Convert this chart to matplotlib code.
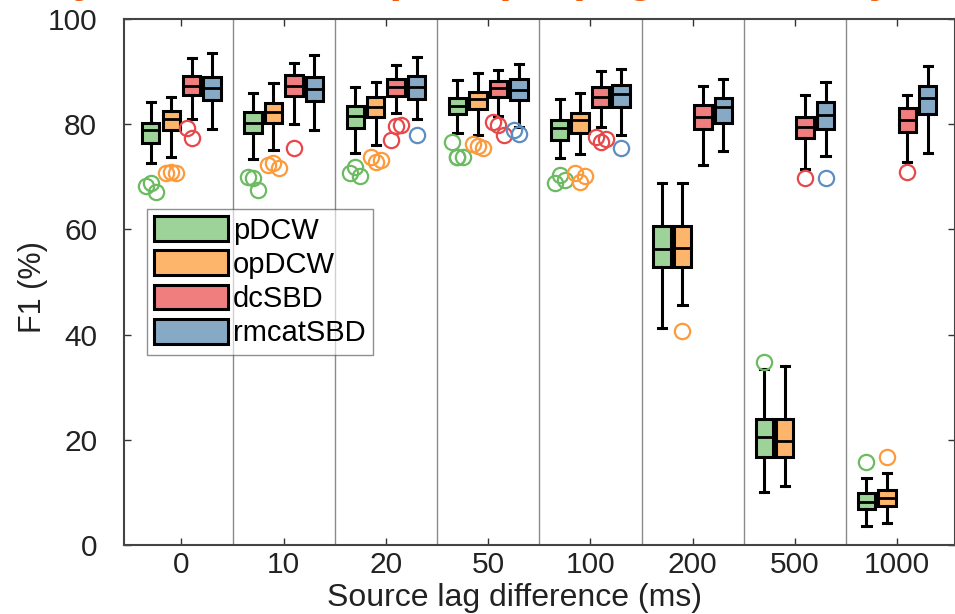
import matplotlib.pyplot as plt
from matplotlib.patches import Patch

plt.rcParams['font.family'] = ['Liberation Sans', 'DejaVu Sans']

lags = ['0', '10', '20', '50', '100', '200', '500', '1000']
methods = ['pDCW', 'opDCW', 'dcSBD', 'rmcatSBD']

# box stats per method, one value per lag group
pdcw_med = [78.9, 80.2, 81.6, 83.5, 79.2, 56.2, 20.6, 8.2]
pdcw_q1 = [76.5, 78.3, 79.2, 81.9, 77.0, 52.8, 16.7, 6.8]
pdcw_q3 = [80.3, 82.4, 83.5, 84.9, 80.8, 60.6, 23.9, 9.9]
pdcw_lo = [72.7, 73.4, 74.5, 78.4, 73.5, 41.2, 10.1, 3.7]
pdcw_hi = [84.2, 86.0, 87.1, 88.4, 84.7, 68.8, 33.5, 12.7]
pdcw_out = [[68.3, 68.8, 67.2], [70.0, 69.7, 67.5], [70.7, 71.8, 70.2],
            [76.7, 73.8, 73.8, 73.8], [68.8, 70.3, 69.4], [], [34.7], [15.7]]

opdcw_med = [80.9, 82.4, 83.3, 84.7, 80.7, 56.4, 19.8, 8.9]
opdcw_q1 = [78.8, 80.2, 81.3, 82.8, 78.4, 52.8, 16.7, 7.4]
opdcw_q3 = [82.5, 84.0, 85.1, 86.2, 82.2, 60.6, 23.9, 10.5]
opdcw_lo = [73.7, 75.1, 76.0, 77.9, 74.3, 45.7, 11.2, 4.1]
opdcw_hi = [85.2, 87.8, 88.0, 89.7, 86.0, 68.9, 34.0, 13.7]
opdcw_out = [[70.8, 70.9, 70.8], [72.2, 72.7, 71.7], [73.8, 72.9, 73.2],
             [76.3, 75.8, 75.4], [70.8, 69.1, 70.2], [40.6], [], [16.7]]

dcsbd_med = [87.3, 87.3, 87.1, 86.8, 85.1, 81.3, 79.4, 80.8]
dcsbd_q1 = [85.6, 85.4, 85.4, 85.1, 83.2, 79.0, 77.3, 78.6]
dcsbd_q3 = [89.2, 89.3, 88.5, 88.3, 87.1, 83.7, 81.4, 83.1]
dcsbd_lo = [81.0, 80.0, 82.2, 81.6, 79.4, 72.2, 71.4, 72.9]
dcsbd_hi = [92.5, 91.7, 91.3, 90.3, 90.1, 87.3, 85.6, 85.6]
dcsbd_out = [[79.2, 77.3], [75.4], [77.0, 79.7, 79.8], [80.5, 79.8, 77.9],
             [77.6, 76.7, 77.2], [], [69.8], [71.0]]

rmcat_med = [86.8, 86.6, 87.0, 86.5, 85.7, 83.3, 81.7, 84.9]
rmcat_q1 = [84.6, 84.5, 84.7, 84.6, 83.3, 80.2, 79.0, 81.9]
rmcat_q3 = [89.0, 89.0, 89.2, 88.5, 87.5, 84.9, 84.3, 87.3]
rmcat_lo = [79.0, 78.8, 80.9, 79.5, 77.9, 74.9, 74.0, 74.6]
rmcat_hi = [93.5, 93.2, 92.7, 91.4, 90.5, 88.5, 88.1, 91.1]
rmcat_out = [[], [], [77.9], [78.9, 78.1], [75.4], [], [69.8], []]

all_stats = [
    (pdcw_med, pdcw_q1, pdcw_q3, pdcw_lo, pdcw_hi, pdcw_out),
    (opdcw_med, opdcw_q1, opdcw_q3, opdcw_lo, opdcw_hi, opdcw_out),
    (dcsbd_med, dcsbd_q1, dcsbd_q3, dcsbd_lo, dcsbd_hi, dcsbd_out),
    (rmcat_med, rmcat_q1, rmcat_q3, rmcat_lo, rmcat_hi, rmcat_out),
]

fills = ['#9dd398', '#fdb56b', '#f07e7e', '#86a9c6']
edges = ['#6cbb62', '#fd9b3c', '#e9484b', '#5c8fbf']
offsets = [-0.3, -0.1, 0.1, 0.3]
jitter = [-0.05, 0.0, 0.05, 0.0]

fig = plt.figure(figsize=(9.55, 6.14), dpi=100)
ax = fig.add_axes([0.1294, 0.1124, 0.8706, 0.8567])

for m, (med, q1, q3, lo, hi, out) in enumerate(all_stats):
    stats = []
    pos = []
    for g in range(len(lags)):
        stats.append({'med': med[g], 'q1': q1[g], 'q3': q3[g],
                      'whislo': lo[g], 'whishi': hi[g], 'fliers': []})
        pos.append(g + 1 + offsets[m])
    ax.bxp(stats, positions=pos, widths=0.17, showfliers=False,
           patch_artist=True,
           boxprops=dict(facecolor=fills[m], edgecolor='black', linewidth=2.2),
           medianprops=dict(color='black', linewidth=2.0),
           whiskerprops=dict(color='black', linewidth=2.2, linestyle='-'),
           capprops=dict(color='black', linewidth=2.2),
           capwidths=0.08, zorder=3)
    for g in range(len(lags)):
        for i, v in enumerate(out[g]):
            dx = jitter[i % len(jitter)] if len(out[g]) > 1 else 0
            ax.plot(g + 1 + offsets[m] + dx, v, 'o', ms=11, mfc='none',
                    mec=edges[m], mew=1.6, zorder=4)

for g in range(len(lags) - 1):
    ax.axvline(g + 1.5, color='#8a8a8a', linewidth=1.0, zorder=1)

ax.set_xlim(0.434, 8.566)
ax.set_ylim(0, 100)
ax.set_xticks(range(1, len(lags) + 1))
ax.set_xticklabels(lags)
ax.set_yticks([0, 20, 40, 60, 80, 100])
ax.tick_params(direction='in', length=5, width=1, color='#333333',
               labelsize=21.5, labelcolor='#222222', top=True, right=True)
ax.tick_params(axis='y', pad=19)
ax.tick_params(axis='x', pad=4)
for s in ax.spines.values():
    s.set_color('#444444')
    s.set_linewidth(1.5)

ax.set_xlabel('Source lag difference (ms)', fontsize=23, color='#222222')
ax.set_ylabel('F1 (%)', fontsize=22, color='#222222')
ax.xaxis.set_label_coords(0.470, -0.073)
ax.yaxis.set_label_coords(-0.091, 0.49)

handles = [Patch(facecolor=fills[i], edgecolor='black', linewidth=2.2)
           for i in range(len(methods))]
leg = ax.legend(handles, methods, loc='upper left',
                bbox_to_anchor=(0.0278, 0.639), borderaxespad=0,
                fontsize=21, handlelength=2.55, handleheight=0.93,
                handletextpad=0.15, labelspacing=0.2, borderpad=0.25,
                fancybox=False, framealpha=0.6, edgecolor='#444444')
leg.get_frame().set_linewidth(1.0)
leg.set_zorder(2)

# slide title, mostly cut off above the figure
fig.text(40 / 955, 1 + 9 / 614, 'Dynamic loads, path propagation delay',
         fontsize=33, fontweight='bold', color='#ee5c0c', va='baseline')

fig.savefig('out.png', dpi=100)
